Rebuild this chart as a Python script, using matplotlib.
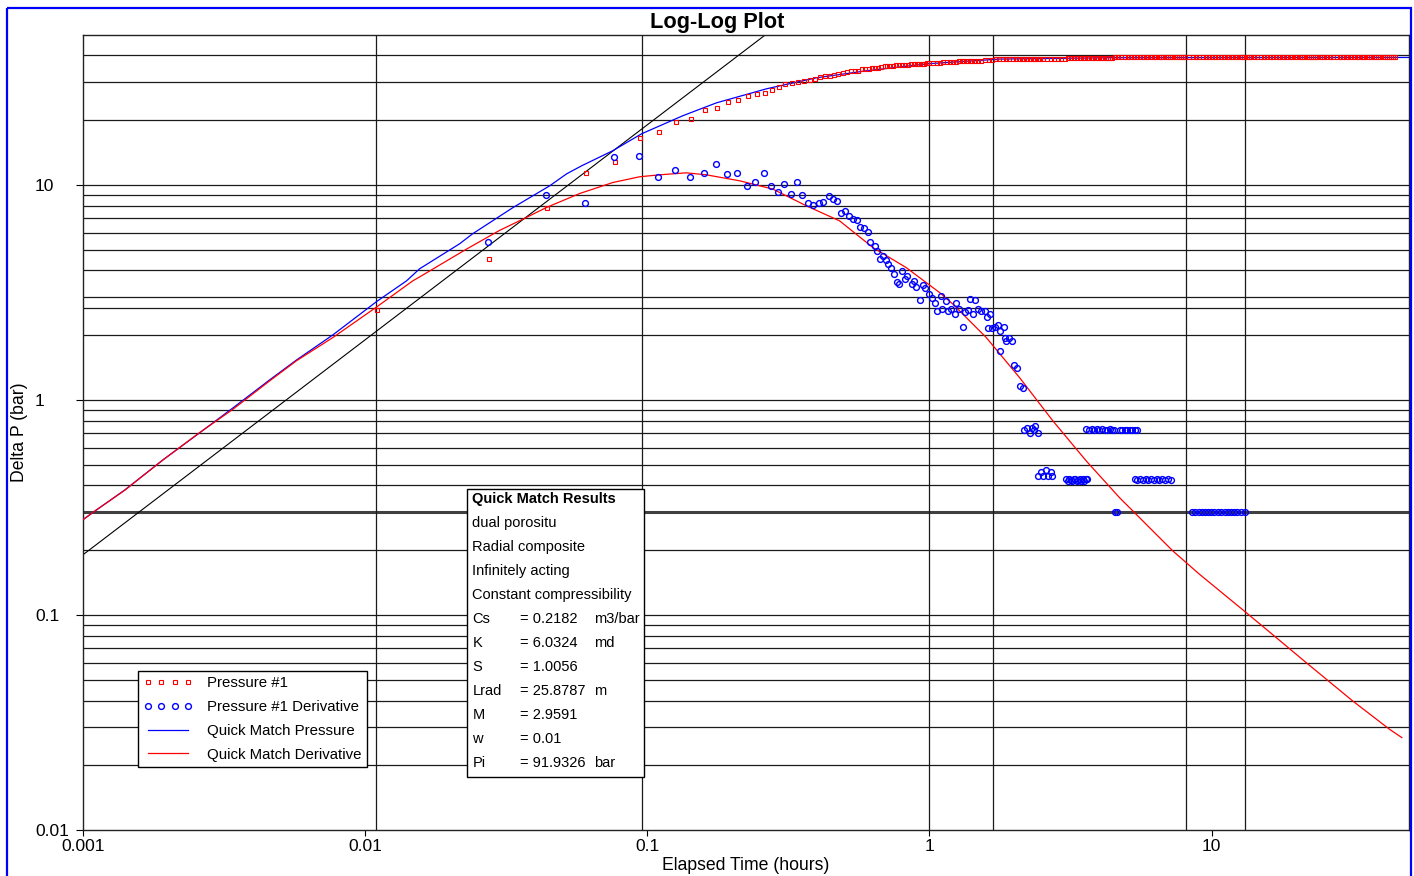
import matplotlib
matplotlib.use('Agg')
import matplotlib.pyplot as plt
import matplotlib.transforms as mtransforms
from matplotlib.patches import Rectangle
from matplotlib.ticker import FixedLocator, FixedFormatter, NullLocator

plt.rcParams['font.family'] = ['Liberation Sans', 'DejaVu Sans']

# ---------------- data ----------------
# Pressure #1 (measured), hours / bar
p_time = [0.0110, 0.0274, 0.0441, 0.0605, 0.0766, 0.094, 0.1097, 0.126, 0.1426, 0.160,
          0.176, 0.194, 0.209, 0.227, 0.244, 0.261, 0.276, 0.292, 0.309,
          0.326, 0.343, 0.359, 0.376, 0.393, 0.409, 0.426, 0.443, 0.459, 0.476,
          0.493, 0.509, 0.526, 0.543, 0.559, 0.576, 0.593, 0.609, 0.626, 0.643,
          0.659, 0.676, 0.693, 0.709, 0.726, 0.743, 0.76, 0.78, 0.80, 0.82,
          0.84, 0.86, 0.88, 0.90, 0.92, 0.94, 0.96, 0.98, 1.0,
          1.03, 1.06, 1.09, 1.12, 1.15, 1.18, 1.21, 1.24, 1.27, 1.30, 1.33, 1.36,
          1.39, 1.42, 1.45, 1.48,
          1.52, 1.57, 1.62, 1.67, 1.72, 1.77, 1.82, 1.87, 1.92, 1.97, 2.02, 2.07,
          2.12, 2.17, 2.22, 2.27, 2.32, 2.37, 2.42, 2.47,
          2.53, 2.61, 2.69, 2.77, 2.85, 2.93, 3.01, 3.09, 3.17, 3.25, 3.33, 3.41,
          3.49, 3.57, 3.65, 3.73, 3.81, 3.89, 3.97, 4.05, 4.13, 4.21, 4.29, 4.37, 4.45,
          4.53, 4.66, 4.79, 4.92, 5.05, 5.18, 5.31, 5.44, 5.57, 5.70, 5.83, 5.96,
          6.09, 6.22, 6.35, 6.48, 6.61, 6.74, 6.87, 7.00, 7.13, 7.26, 7.39, 7.52,
          7.65, 7.78, 7.91,
          8.05, 8.30, 8.55, 8.80, 9.05, 9.30, 9.55, 9.80, 10.05, 10.3, 10.55, 10.8,
          11.05, 11.3, 11.55, 11.8, 12.05, 12.3, 12.55, 12.8, 13.05, 13.3, 13.55, 13.8,
          14.1, 14.5, 14.9, 15.3, 15.7, 16.1, 16.5, 16.9, 17.3, 17.7, 18.1, 18.5,
          18.9, 19.3, 19.7, 20.1, 20.5, 20.9, 21.3, 21.7, 22.1, 22.5, 22.9, 23.3,
          23.7, 24.1, 24.5, 24.9,
          25.6, 26.3, 27.0, 27.7, 28.4, 29.1, 29.8, 30.5, 31.2, 31.9, 32.6, 33.3,
          34.0, 34.7, 35.4, 36.1, 36.8, 37.5, 38.2, 38.9, 39.6, 40.3, 41.0, 41.7,
          42.4, 43.1, 43.8, 44.5]
p_dp = [2.62, 4.50, 7.82, 11.29, 12.75, 16.5, 17.64, 19.63, 20.28, 22.17,
        22.8, 24.25, 24.93, 26.0, 26.5, 26.87, 27.66, 28.47, 29.28,
        29.9, 30.2, 30.5, 30.7, 31.2, 31.8, 32.1, 32.1, 32.4, 32.8,
        33.2, 33.4, 33.7, 33.8, 34.0, 34.4, 34.6, 34.7, 34.8, 35.0,
        35.1, 35.3, 35.5, 35.7, 35.8, 35.8, 35.9, 35.9, 36.0, 36.1,
        36.2, 36.3, 36.4, 36.4, 36.5, 36.6, 36.6, 36.7, 36.7,
        36.9, 37.0, 37.0, 37.1, 37.2, 37.3, 37.4, 37.4, 37.5, 37.5, 37.5, 37.6,
        37.6, 37.7, 37.7, 37.7,
        37.8, 37.9, 38.0, 38.2, 38.3, 38.4, 38.4, 38.5, 38.5, 38.5, 38.5, 38.5,
        38.5, 38.5, 38.6, 38.6, 38.6, 38.6, 38.6, 38.6,
        38.6, 38.6, 38.6, 38.6, 38.6, 38.6, 38.6, 38.7, 38.7, 38.7, 38.7, 38.7,
        38.7, 38.7, 38.7, 38.7, 38.7, 38.7, 38.7, 38.7, 38.7, 38.7, 38.7, 38.7, 38.7,
        39.4, 39.4, 39.4, 39.4, 39.4, 39.4, 39.4, 39.4, 39.4, 39.4, 39.4, 39.4,
        39.4, 39.4, 39.4, 39.4, 39.4, 39.4, 39.4, 39.4, 39.4, 39.4, 39.4, 39.4,
        39.4, 39.4, 39.4,
        39.4, 39.4, 39.4, 39.4, 39.4, 39.4, 39.4, 39.4, 39.4, 39.4, 39.4, 39.4,
        39.4, 39.4, 39.4, 39.4, 39.4, 39.4, 39.4, 39.4, 39.4, 39.4, 39.4, 39.4,
        39.4, 39.4, 39.4, 39.4, 39.4, 39.4, 39.4, 39.4, 39.4, 39.4, 39.4, 39.4,
        39.4, 39.4, 39.4, 39.4, 39.4, 39.4, 39.4, 39.4, 39.4, 39.4, 39.4, 39.4,
        39.4, 39.4, 39.4, 39.4,
        39.4, 39.4, 39.4, 39.4, 39.4, 39.4, 39.4, 39.4, 39.4, 39.4, 39.4, 39.4,
        39.4, 39.4, 39.4, 39.4, 39.4, 39.4, 39.4, 39.4, 39.4, 39.4, 39.4, 39.4,
        39.4, 39.4, 39.4, 39.4]

# Pressure #1 Derivative (measured)
d_time = [0.0272, 0.0439, 0.0601, 0.0762, 0.0934, 0.1095, 0.1253, 0.1421, 0.1588, 0.1757,
          0.1921, 0.2078, 0.2255, 0.2413, 0.2584, 0.2736, 0.2897, 0.3057, 0.3239, 0.3392,
          0.3542, 0.3709, 0.3875, 0.4057, 0.4205, 0.4402, 0.4550, 0.4702, 0.4857, 0.5033,
          0.5200, 0.5373, 0.5520, 0.5687, 0.5843, 0.6037, 0.6169, 0.6391, 0.6531, 0.6672,
          0.6838, 0.6989, 0.7145, 0.7321, 0.7478, 0.7645, 0.7812, 0.8005, 0.8178, 0.8359,
          0.8663, 0.8851, 0.8949, 0.9273, 0.9475, 0.968, 0.9945, 1.022, 1.05, 1.062,
          1.10, 1.109, 1.146, 1.162, 1.194, 1.228, 1.244, 1.27, 1.312, 1.331,
          1.368, 1.387, 1.426, 1.445, 1.484, 1.525, 1.567, 1.601, 1.61, 1.645,
          1.668, 1.701, 1.747, 1.771, 1.785, 1.83, 1.845, 1.87, 1.911, 1.959,
          1.986, 2.04, 2.10, 2.143,
          2.154, 2.22, 2.27, 2.30, 2.344, 2.375, 2.42,
          2.42, 2.475, 2.53, 2.585, 2.64, 2.70, 2.71,
          3.05, 3.09, 3.13, 3.17, 3.21, 3.25, 3.29, 3.33, 3.37, 3.41, 3.45, 3.49, 3.53, 3.58, 3.62,
          3.60, 3.68, 3.76, 3.84, 3.92, 4.00, 4.09, 4.18, 4.27, 4.36, 4.45, 4.50,
          4.55, 4.62,
          4.72, 4.82, 4.92, 5.02, 5.12, 5.22, 5.33, 5.44,
          5.33, 5.45, 5.57, 5.70, 5.83, 5.96, 6.10, 6.24, 6.38, 6.53, 6.68, 6.84, 7.00, 7.19,
          8.53, 8.75, 8.98, 9.21, 9.45, 9.70, 9.95, 10.2, 10.5, 10.8, 11.1, 11.4, 11.7,
          12.0, 12.3, 12.7, 13.07]
d_dp = [5.43, 8.98, 8.22, 13.45, 13.64, 10.9, 11.74, 10.9, 11.41, 12.48,
        11.21, 11.41, 9.83, 10.29, 11.41, 9.83, 9.25, 10.11, 9.11, 10.29,
        8.98, 8.22, 8.10, 8.22, 8.34, 8.86, 8.61, 8.45, 7.41, 7.52,
        7.20, 6.97, 6.87, 6.38, 6.29, 6.03, 5.43, 5.18, 4.90, 4.54,
        4.68, 4.48, 4.28, 4.10, 3.855, 3.53, 3.475, 3.97, 3.63, 3.75,
        3.475, 3.58, 3.365, 2.90, 3.43, 3.32, 3.10, 2.99, 2.82, 2.60,
        3.05, 2.64, 2.89, 2.58, 2.66, 2.52, 2.81, 2.66, 2.18, 2.57,
        2.61, 2.94, 2.50, 2.91, 2.64, 2.58, 2.58, 2.43, 2.15, 2.50,
        2.15, 2.19, 2.225, 2.09, 1.69, 2.19, 1.93, 1.88, 1.93, 1.88,
        1.45, 1.41, 1.162, 1.133,
        0.722, 0.739, 0.702, 0.743, 0.722, 0.757, 0.702,
        0.443, 0.464, 0.443, 0.471, 0.443, 0.462, 0.443,
        0.428, 0.418, 0.428, 0.425, 0.418, 0.428, 0.428, 0.418, 0.425, 0.428, 0.418, 0.428, 0.418, 0.428, 0.428,
        0.730, 0.725, 0.735, 0.725, 0.730, 0.725, 0.730, 0.725, 0.725, 0.730, 0.725, 0.725,
        0.302, 0.302,
        0.725, 0.725, 0.725, 0.725, 0.725, 0.725, 0.725, 0.725,
        0.428, 0.425, 0.428, 0.425, 0.428, 0.425, 0.428, 0.425, 0.428, 0.425, 0.428, 0.425, 0.428, 0.425,
        0.302, 0.302, 0.302, 0.302, 0.302, 0.302, 0.302, 0.302, 0.302, 0.302, 0.302, 0.302, 0.302,
        0.302, 0.302, 0.302, 0.302]

# Quick Match Pressure (model)
qp_time = [0.001, 0.00112, 0.001409, 0.001925, 0.002597, 0.003408, 0.004597, 0.00573, 0.0077,
           0.0110, 0.01405, 0.01562, 0.02165, 0.02407, 0.03336, 0.04512, 0.05183, 0.05857,
           0.07538, 0.09555, 0.1335, 0.1762, 0.2648, 0.3983, 0.5986, 0.9847, 1.771, 4.45, 50.0]
qp_dp = [0.2767, 0.308, 0.381, 0.526, 0.703, 0.918, 1.239, 1.535, 2.006,
         2.866, 3.58, 4.07, 5.32, 5.92, 7.82, 9.89, 11.25, 12.26,
         14.39, 17.27, 20.94, 24.07, 27.96, 31.47, 33.9, 36.55, 38.43, 39.0, 39.1]

# Quick Match Derivative (model)
qd_time = [0.001, 0.001118, 0.001409, 0.001925, 0.002597, 0.003408, 0.004597, 0.005715, 0.0077,
           0.01098, 0.01479, 0.01562, 0.02287, 0.030, 0.03731, 0.04391, 0.05761, 0.07556,
           0.09399, 0.1107, 0.1375, 0.162, 0.2125, 0.2788, 0.3661, 0.4803, 0.6303, 0.8276,
           1.086, 1.21, 1.589, 2.085, 2.736, 3.594, 4.714, 5.254, 7.28, 9.05, 13.25, 15.60,
           21.62, 31.6, 42.65, 47.15]
qd_dp = [0.2767, 0.3078, 0.380, 0.526, 0.705, 0.905, 1.226, 1.519, 1.95,
         2.70, 3.58, 3.73, 5.02, 6.14, 7.05, 7.84, 9.11, 10.25,
         10.9, 11.13, 11.37, 11.13, 10.44, 9.55, 7.99, 6.80, 5.11, 4.12,
         3.155, 2.79, 1.95, 1.27, 0.799, 0.520, 0.351, 0.3045, 0.1985, 0.1546, 0.1025, 0.0858,
         0.060, 0.0398, 0.0294, 0.0269]

# unit-slope reference line
slope_time = [0.001, 0.2632]
slope_dp = [0.19, 50.0]

# reference grid lines used by the original plot
vgrid_x = [0.0109, 0.0956, 1.0, 1.686, 8.13, 13.1]
hgrid_extra = [2.68]
hgrid_bold = 0.3

x_ticks = [0.001, 0.01, 0.1, 1, 10]
x_ticklabels = ['0.001', '0.01', '0.1', '1', '10']
y_ticks = [0.01, 0.1, 1, 10]
y_ticklabels = ['0.01', '0.1', '1', '10']

results_title = 'Quick Match Results'
results_lines = ['dual porositu', 'Radial composite', 'Infinitely acting', 'Constant compressibility']
results_params = [('Cs', '= 0.2182', 'm3/bar'), ('K', '= 6.0324', 'md'), ('S', '= 1.0056', ''),
                  ('Lrad', '= 25.8787', 'm'), ('M', '= 2.9591', ''), ('w', '= 0.01', ''),
                  ('Pi', '= 91.9326', 'bar')]

# ---------------- figure ----------------
W, H = 1414, 876
fig = plt.figure(figsize=(W / 100, H / 100), dpi=100)
pix = mtransforms.Affine2D().scale(1 / W, -1 / H).translate(0, 1) + fig.transFigure

L, R, T, B = 82.7, 1409, 34.5, 830
ax = fig.add_axes([L / W, 1 - B / H, (R - L) / W, (B - T) / H])
ax.set_xscale('log')
ax.set_yscale('log')
ax.set_xlim(0.001, 50)
ax.set_ylim(0.01, 50)

# grid
for e in [-2, -1, 0, 1]:
    for m in range(1, 10):
        yv = m * 10.0 ** e
        if yv < 50 and abs(yv - hgrid_bold) > 1e-9 and yv > 0.01:
            ax.axhline(yv, color='#1a1a1a', lw=0.9, zorder=1)
for yv in hgrid_extra:
    ax.axhline(yv, color='#1a1a1a', lw=0.9, zorder=1)
ax.axhline(hgrid_bold, color='#404040', lw=2.2, zorder=1)
for xv in vgrid_x:
    ax.axvline(xv, color='#1a1a1a', lw=0.9, zorder=1)

ax.plot(slope_time, slope_dp, color='black', lw=0.8, zorder=2)
l_qp, = ax.plot(qp_time, qp_dp, color='#0000FF', lw=0.9, zorder=3, label='Quick Match Pressure')
l_qd, = ax.plot(qd_time, qd_dp, color='#FF0000', lw=0.9, zorder=3, label='Quick Match Derivative')
l_p, = ax.plot(p_time, p_dp, ls='none', marker='s', ms=2.8, mfc='none', mec='#FF0000', mew=0.8,
               zorder=4, label='Pressure #1')
l_d, = ax.plot(d_time, d_dp, ls='none', marker='o', ms=4.2, mfc='none', mec='#0000FF', mew=1.0,
               zorder=4, label='Pressure #1 Derivative')

# ticks
ax.xaxis.set_major_locator(FixedLocator(x_ticks))
ax.xaxis.set_major_formatter(FixedFormatter(x_ticklabels))
ax.yaxis.set_major_locator(FixedLocator(y_ticks))
ax.yaxis.set_major_formatter(FixedFormatter(y_ticklabels))
ax.xaxis.set_minor_locator(NullLocator())
ax.yaxis.set_minor_locator(NullLocator())
ax.tick_params(axis='x', direction='out', length=4.3, width=0.8, pad=2.5, labelsize=12.5)
ax.tick_params(axis='y', direction='out', length=5, width=0.8, pad=29.3, labelsize=12.5)
for lab in ax.get_yticklabels():
    lab.set_horizontalalignment('left')
for sp in ax.spines.values():
    sp.set_color('#222222')
    sp.set_linewidth(1.0)

# legend
leg = ax.legend(handles=[l_p, l_d, l_qp, l_qd], loc='upper left',
                bbox_to_anchor=(138 / W, 1 - 671 / H), bbox_transform=fig.transFigure,
                borderaxespad=0, fontsize=10.8, numpoints=4, handlelength=3.3,
                handletextpad=0.95, labelspacing=0.65, borderpad=0.35,
                fancybox=False, framealpha=1, edgecolor='black')
leg.get_frame().set_linewidth(1.0)
leg.set_zorder(10)

# results box
fig.add_artist(Rectangle((467, 488.5), 177, 288, transform=pix, facecolor='white',
                         edgecolor='black', lw=1.0, zorder=10))
y0, dy = 499, 23.96
fig.text(472.5, y0, results_title, transform=pix, fontsize=10.5, fontweight='bold',
         va='center', ha='left', zorder=11)
row = 1
for s in results_lines:
    fig.text(472.5, y0 + row * dy, s, transform=pix, fontsize=10.5, va='center', ha='left', zorder=11)
    row += 1
for name, val, unit in results_params:
    yy = y0 + row * dy
    fig.text(472.5, yy, name, transform=pix, fontsize=10.5, va='center', ha='left', zorder=11)
    fig.text(519.5, yy, val, transform=pix, fontsize=10.5, va='center', ha='left', zorder=11)
    if unit:
        fig.text(594.5, yy, unit, transform=pix, fontsize=10.5, va='center', ha='left', zorder=11)
    row += 1

# titles
fig.text(717, 28, 'Log-Log Plot', transform=pix, fontsize=15.7, fontweight='bold',
         ha='center', va='baseline')
fig.text(746, 866, 'Elapsed Time (hours)', transform=pix, fontsize=12.7, ha='center', va='center')
fig.text(20, 432, 'Delta P (bar)', transform=pix, fontsize=12.7, ha='center', va='center',
         rotation=90)

# outer blue frame
fig.add_artist(Rectangle((7, 7.5), 1404, 900, transform=pix, facecolor='none',
                         edgecolor='#0000FF', lw=1.6, clip_on=False))

fig.savefig('out.png', dpi=100)
